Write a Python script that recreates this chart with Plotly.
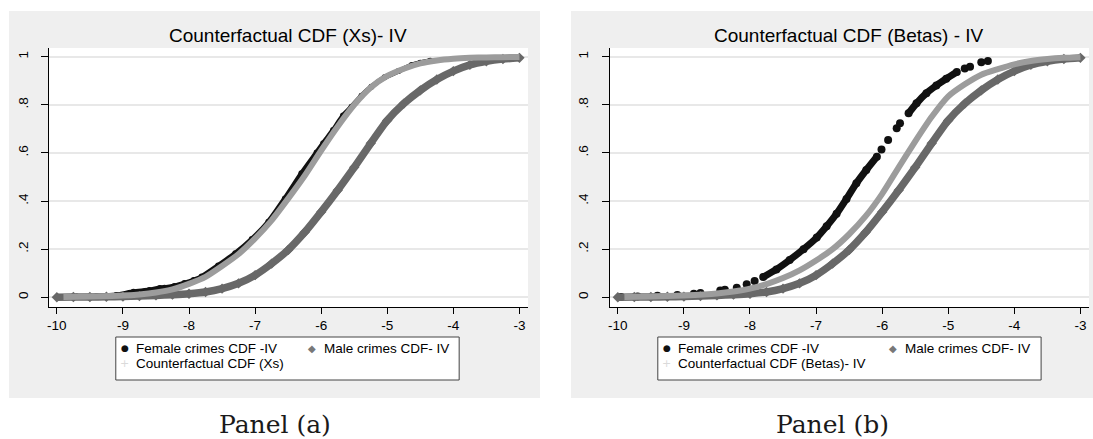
import plotly.graph_objects as go

# ---------------- data ----------------
x_tick_vals = [-10, -9, -8, -7, -6, -5, -4, -3]
x_tick_text = ["-10", "-9", "-8", "-7", "-6", "-5", "-4", "-3"]
y_tick_vals = [0, 0.2, 0.4, 0.6, 0.8, 1.0]
y_tick_text = ["0", ".2", ".4", ".6", ".8", "1"]

panel_titles = ["Counterfactual CDF (Xs)- IV", "Counterfactual CDF (Betas) - IV"]
panel_labels = ["Panel (a)", "Panel (b)"]
female_name = "Female crimes CDF -IV"
male_name = "Male crimes CDF- IV"
cf_names = ["Counterfactual CDF (Xs)", "Counterfactual CDF (Betas)- IV"]

# Male crimes CDF (same in both panels)
male_x = [-10.0, -9.75, -9.5, -9.25, -9.0, -8.75, -8.5, -8.25, -8.0, -7.75, -7.5, -7.25,
          -7.0, -6.75, -6.5, -6.25, -6.0, -5.75, -5.5, -5.25, -5.0, -4.75, -4.5, -4.25,
          -4.0, -3.75, -3.5, -3.25, -3.0]
male_y = [0.000, 0.001, 0.001, 0.002, 0.003, 0.005, 0.008, 0.011, 0.015, 0.022, 0.036, 0.058,
          0.092, 0.140, 0.197, 0.270, 0.355, 0.445, 0.540, 0.640, 0.735, 0.805, 0.860, 0.905,
          0.940, 0.966, 0.981, 0.990, 0.995]

# Panel (a): counterfactual CDF (Xs)
cf_a_x = [-9.9, -9.5, -9.0, -8.75, -8.5, -8.25, -8.0, -7.75, -7.5, -7.25, -7.0, -6.75, -6.5,
          -6.25, -6.0, -5.75, -5.5, -5.25, -5.0, -4.75, -4.5, -4.25, -4.0, -3.75, -3.5, -3.25, -3.0]
cf_a_y = [0.001, 0.003, 0.007, 0.012, 0.020, 0.033, 0.056, 0.085, 0.130, 0.180, 0.245, 0.320, 0.410,
          0.505, 0.610, 0.710, 0.800, 0.872, 0.920, 0.950, 0.972, 0.984, 0.991, 0.995, 0.997, 0.998, 0.999]

# Panel (a): female crimes CDF
fem_a_x = [-9.95, -9.7, -9.4, -9.1, -8.84, -8.6, -8.44, -8.37, -8.22, -8.07, -7.93, -7.81, -7.56,
           -7.30, -7.05, -6.80, -6.55, -6.30, -6.07, -5.97, -5.82, -5.67, -5.54, -5.39, -5.24,
           -5.04, -4.83, -4.63, -4.50, -4.35]
fem_a_y = [0.001, 0.003, 0.005, 0.010, 0.023, 0.030, 0.039, 0.040, 0.047, 0.059, 0.072, 0.086, 0.132,
           0.183, 0.242, 0.314, 0.411, 0.515, 0.602, 0.640, 0.695, 0.755, 0.792, 0.838, 0.875,
           0.914, 0.940, 0.965, 0.975, 0.983]

# Panel (b): counterfactual CDF (Betas)
cf_b_x = [-9.9, -9.5, -9.0, -8.5, -8.25, -8.0, -7.75, -7.5, -7.25, -7.0, -6.75, -6.5, -6.25,
          -6.0, -5.75, -5.5, -5.25, -5.0, -4.75, -4.5, -4.25, -4.0, -3.75, -3.5, -3.25, -3.0]
cf_b_y = [0.001, 0.003, 0.008, 0.016, 0.024, 0.036, 0.055, 0.080, 0.112, 0.153, 0.200, 0.262, 0.337,
          0.430, 0.540, 0.648, 0.750, 0.835, 0.885, 0.925, 0.948, 0.968, 0.982, 0.990, 0.995, 0.998]

# Panel (b): female crimes CDF
fem_b_x = [-9.95, -9.7, -9.4, -9.1, -8.85, -8.75, -8.45, -8.38, -8.2, -8.05, -7.93, -7.8, -7.6,
           -7.4, -7.19, -6.99, -6.84, -6.69, -6.54, -6.39, -6.24, -6.08, -6.01, -5.91, -5.78,
           -5.73, -5.60, -5.48, -5.33, -5.18, -5.03, -4.87, -4.75, -4.67, -4.50, -4.40]
fem_b_y = [0.001, 0.003, 0.006, 0.010, 0.015, 0.018, 0.028, 0.031, 0.040, 0.054, 0.068, 0.084, 0.116,
           0.155, 0.200, 0.248, 0.295, 0.347, 0.409, 0.474, 0.529, 0.584, 0.614, 0.654, 0.702,
           0.723, 0.765, 0.806, 0.848, 0.880, 0.908, 0.936, 0.951, 0.958, 0.977, 0.982]

# ---------------- styling ----------------
W, H = 1093, 439
FONT = "Liberation Sans, Arial, sans-serif"
C_FEM = "#111111"
C_MALE = "#686868"
C_CF = "#9c9c9c"
BG = "#efefef"


def px_x(p):
    return p / W


def px_y(p):
    return 1 - p / H


fig = go.Figure()

# ---- panel (a) ----
fig.add_trace(go.Scatter(x=fem_a_x, y=fem_a_y, mode="lines+markers", xaxis="x", yaxis="y",
                         name=female_name,
                         line=dict(color=C_FEM, width=5, shape="spline", smoothing=0.6),
                         marker=dict(color=C_FEM, size=6, symbol="circle"), showlegend=False))
fig.add_trace(go.Scatter(x=male_x, y=male_y, mode="lines+markers", xaxis="x", yaxis="y",
                         name=male_name,
                         line=dict(color=C_MALE, width=7.5, shape="spline", smoothing=0.6),
                         marker=dict(color=C_MALE, size=8, symbol="diamond"), showlegend=False))
fig.add_trace(go.Scatter(x=cf_a_x, y=cf_a_y, mode="lines", xaxis="x", yaxis="y",
                         name=cf_names[0],
                         line=dict(color=C_CF, width=6, shape="spline", smoothing=0.6),
                         showlegend=False))

# ---- panel (b) ----
dense1 = slice(11, 22)
dense2 = slice(26, 32)
line_fx = fem_b_x[dense1] + [None] + fem_b_x[dense2]
line_fy = fem_b_y[dense1] + [None] + fem_b_y[dense2]
fig.add_trace(go.Scatter(x=line_fx, y=line_fy, mode="lines", xaxis="x2", yaxis="y2",
                         line=dict(color=C_FEM, width=7, shape="spline", smoothing=0.6),
                         connectgaps=False, showlegend=False, hoverinfo="skip"))
fig.add_trace(go.Scatter(x=fem_b_x, y=fem_b_y, mode="markers", xaxis="x2", yaxis="y2",
                         name=female_name,
                         marker=dict(color=C_FEM, size=8, symbol="circle"), showlegend=False))
fig.add_trace(go.Scatter(x=male_x, y=male_y, mode="lines+markers", xaxis="x2", yaxis="y2",
                         name=male_name,
                         line=dict(color=C_MALE, width=7.5, shape="spline", smoothing=0.6),
                         marker=dict(color=C_MALE, size=8, symbol="diamond"), showlegend=False))
fig.add_trace(go.Scatter(x=cf_b_x, y=cf_b_y, mode="lines", xaxis="x2", yaxis="y2",
                         name=cf_names[1],
                         line=dict(color=C_CF, width=6, shape="spline", smoothing=0.6),
                         showlegend=False))

xdom = [[47, 527], [609, 1089]]
ydom = [px_y(307), px_y(48)]
bgs = [[7, 539], [570, 1093]]

tick_font = dict(family=FONT, size=13.5, color="black")
axis_common_x = dict(range=[-10.12, -2.87], tickvals=x_tick_vals, ticktext=x_tick_text,
                     showline=True, linecolor="black", linewidth=1, ticks="outside",
                     ticklen=6, tickwidth=1, tickcolor="black", showgrid=False, zeroline=False,
                     tickfont=tick_font, fixedrange=True)
axis_common_y = dict(range=[-0.0403, 1.036], tickvals=y_tick_vals, ticktext=y_tick_text,
                     tickangle=-90, showline=True, linecolor="black", linewidth=1,
                     ticks="outside", ticklen=7, tickwidth=1, tickcolor="black",
                     ticklabelstandoff=8,
                     showgrid=True, gridcolor="#e8e8e8", gridwidth=2, zeroline=False,
                     tickfont=tick_font, fixedrange=True)

shapes = []
annotations = []
for (b0, b1), (d0, d1) in zip(bgs, xdom):
    shapes.append(dict(type="rect", xref="paper", yref="paper", x0=px_x(b0), x1=px_x(b1),
                       y0=px_y(398), y1=px_y(11), fillcolor=BG, line=dict(width=0), layer="below"))
    shapes.append(dict(type="rect", xref="paper", yref="paper", x0=px_x(d0), x1=px_x(d1),
                       y0=ydom[0], y1=ydom[1], fillcolor="white", line=dict(width=0), layer="below"))

for k, (d0, d1) in enumerate(xdom):
    annotations.append(dict(text=panel_titles[k], xref="paper", yref="paper",
                            x=px_x((d0 + d1) / 2), y=px_y(35), xanchor="center", yanchor="middle",
                            showarrow=False, font=dict(family=FONT, size=19, color="black")))
    b0, b1 = bgs[k]
    annotations.append(dict(text=panel_labels[k], xref="paper", yref="paper",
                            x=px_x((b0 + b1) / 2 + 1), y=px_y(424), xanchor="center", yanchor="middle",
                            showarrow=False, font=dict(family="DejaVu Serif, serif", size=25, color="#1a1a1a")))

# ---- legends (box + keys + labels), one per panel ----
leg_box = [[114, 458], [657, 1041]]      # left/right px of each legend box
leg_col2 = [311, 893]                      # px of second-column key
leg_font = dict(family=FONT, size=13.5, color="black")
for k in range(2):
    l0, l1 = leg_box[k]
    shapes.append(dict(type="rect", xref="paper", yref="paper", x0=px_x(l0), x1=px_x(l1),
                       y0=px_y(380), y1=px_y(337), fillcolor="white",
                       line=dict(color="#444444", width=1), layer="above"))
    entries = [
        ("\u25CF", C_FEM, 9, l0 + 9, 348, female_name),
        ("\u25C6", "#787878", 10, leg_col2[k], 348, male_name),
        ("+", "#dadada", 11, l0 + 9, 363, cf_names[k]),
    ]
    for sym, col, sz, sx, sy, label in entries:
        annotations.append(dict(text=sym, xref="paper", yref="paper", x=px_x(sx), y=px_y(sy),
                                xanchor="center", yanchor="middle", showarrow=False,
                                font=dict(family="DejaVu Sans", size=sz, color=col)))
        annotations.append(dict(text=label, xref="paper", yref="paper", x=px_x(sx + 9.5), y=px_y(sy),
                                xanchor="left", yanchor="middle", showarrow=False, font=leg_font))

fig.update_layout(
    width=W, height=H, margin=dict(l=0, r=0, t=0, b=0),
    paper_bgcolor="white", plot_bgcolor="white",
    xaxis=dict(domain=[px_x(xdom[0][0]), px_x(xdom[0][1])], anchor="y", **axis_common_x),
    yaxis=dict(domain=ydom, anchor="x", **axis_common_y),
    xaxis2=dict(domain=[px_x(xdom[1][0]), px_x(xdom[1][1])], anchor="y2", **axis_common_x),
    yaxis2=dict(domain=ydom, anchor="x2", **axis_common_y),
    shapes=shapes, annotations=annotations, showlegend=False,
)

fig.write_html("out.html", config={"displayModeBar": False})
